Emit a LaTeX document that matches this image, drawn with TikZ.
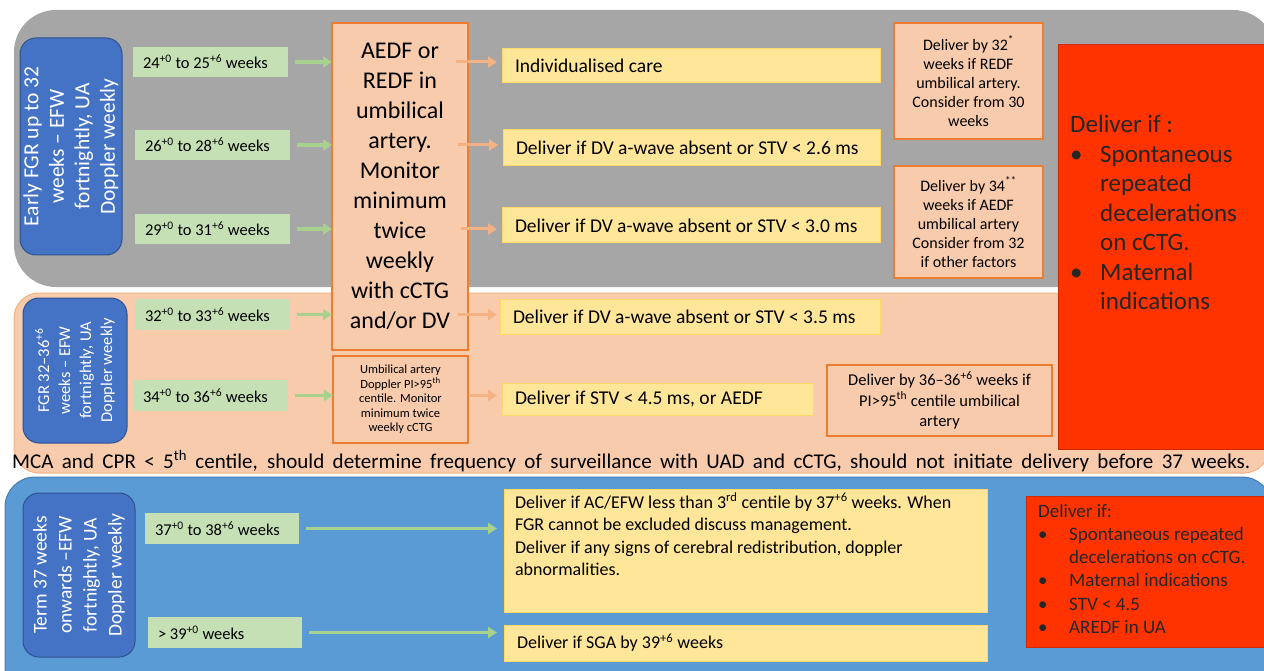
\documentclass[tikz,border=0pt]{standalone}
\usepackage{fontspec}
\setmainfont{Carlito}
\usetikzlibrary{arrows.meta}

\definecolor{panelgray}{HTML}{A6A6A6}
\definecolor{panelpeach}{HTML}{F8CBAD}
\definecolor{panelblue}{HTML}{5B9BD5}
\definecolor{stageblue}{HTML}{4472C4}
\definecolor{stageline}{HTML}{2F528F}
\definecolor{wkgreen}{HTML}{C5E0B4}
\definecolor{arrgreen}{HTML}{A9D18E}
\definecolor{actyellow}{HTML}{FFE699}
\definecolor{actline}{HTML}{FFD966}
\definecolor{notepeach}{HTML}{F8CBAD}
\definecolor{noteline}{HTML}{ED7D31}
\definecolor{arrorange}{HTML}{F4B183}
\definecolor{alertred}{HTML}{FF3300}

\newcommand{\sps}[1]{\textsuperscript{#1}}
\newcommand{\itm}[2]{\makebox[#1][l]{\hspace{#2}\textbullet}}

\begin{document}
\begin{tikzpicture}[x=1pt,y=-1pt,
  box/.style={anchor=north west,inner ysep=0pt,outer sep=0pt},
  wkbox/.style={box,fill=wkgreen,inner xsep=10pt,align=flush left,font=\fontsize{16.5}{19}\selectfont},
  actbox/.style={box,fill=actyellow,draw=actline,line width=1pt,inner xsep=13pt,align=flush left,font=\fontsize{19.5}{23}\selectfont},
  notebox/.style={box,fill=notepeach,draw=noteline,line width=1.5pt,inner xsep=4pt,align=flush center,font=\fontsize{16}{19}\selectfont},
  stagebox/.style={fill=stageblue,draw=stageline,line width=1pt,rounded corners=16pt,rotate=90,align=flush center,text=white,inner sep=0pt},
  alertbox/.style={box,fill=alertred,draw=alertred!80!black,line width=1pt},
  alerttxt/.style={anchor=north west,inner sep=0pt,align=flush left,text=black!85},
  garrow/.style={draw=arrgreen,line width=3.5pt,-{Triangle[length=9pt,width=11pt]},shorten <=7pt},
  oarrow/.style={draw=arrorange,line width=3pt,-{Triangle[length=9pt,width=11pt]}},
]
\useasboundingbox (0,0) rectangle (1264,671);
\clip (0,0) rectangle (1264,671);

% panels
\fill[panelgray,rounded corners=42pt] (14,10) rectangle (1275,287);
\draw[fill=panelpeach,draw=arrorange,line width=1pt,rounded corners=25pt] (14,293) rectangle (1269,473);
\draw[fill=panelblue,draw=panelblue!80!black,line width=1pt,rounded corners=30pt] (5,477) rectangle (1272,700);

% stages
\node[stagebox,minimum width=217,minimum height=102,font=\fontsize{21.5}{25.5}\selectfont] (early) at (71,146.5)
  {Early FGR up to 32\\weeks – EFW\\fortnightly, UA\\Doppler weekly};
\node[stagebox,minimum width=145,minimum height=104,font=\fontsize{16.5}{21}\selectfont] (mid) at (75,370.5)
  {FGR 32–36\sps{+6}\\weeks – EFW\\fortnightly, UA\\Doppler weekly};
\node[stagebox,minimum width=164,minimum height=112,font=\fontsize{19.5}{25}\selectfont] (term) at (79,575)
  {Term 37 weeks\\onwards –EFW\\fortnightly, UA\\Doppler weekly};

% gestation
\node[wkbox,minimum height=30,text width=135] (w24) at (133,47) {24\sps{+0} to 25\sps{+6} weeks};
\node[wkbox,minimum height=30,text width=135] (w26) at (135,130) {26\sps{+0} to 28\sps{+6} weeks};
\node[wkbox,minimum height=30,text width=135] (w29) at (135,214) {29\sps{+0} to 31\sps{+6} weeks};
\node[wkbox,minimum height=31,text width=135] (w32) at (135,299) {32\sps{+0} to 33\sps{+6} weeks};
\node[wkbox,minimum height=31,text width=135] (w34) at (133,380) {34\sps{+0} to 36\sps{+6} weeks};
\node[wkbox,minimum height=31,text width=134] (w37) at (145,513) {37\sps{+0} to 38\sps{+6} weeks};
\node[wkbox,minimum height=31,text width=134] (w39) at (148,617) {> 39\sps{+0} weeks};

% monitoring
\node[notebox,minimum height=327,text width=128,font=\fontsize{24}{30}\selectfont] (uadf) at (332,23)
  {AEDF or\\REDF in\\umbilical\\artery.\\Monitor\\minimum\\twice\\weekly\\with cCTG\\and/or DV};
\node[notebox,minimum height=87,text width=127,font=\fontsize{12.5}{14.5}\selectfont] (uapi) at (333,356)
  {Umbilical artery\\Doppler PI>95\sps{th}\\centile. Monitor\\minimum twice\\weekly cCTG};

% actions
\node[actbox,minimum height=34,text width=352] (indiv) at (502,49) {Individualised care};
\node[actbox,minimum height=36,text width=351] (dv26) at (503,130) {Deliver if DV a-wave absent or STV < 2.6 ms};
\node[actbox,minimum height=35,text width=352] (dv29) at (502,208) {Deliver if DV a-wave absent or STV < 3.0 ms};
\node[actbox,minimum height=35,text width=354] (dv32) at (500,299) {Deliver if DV a-wave absent or STV < 3.5 ms};
\node[actbox,minimum height=32,text width=285] (stv34) at (502,383) {Deliver if STV < 4.5 ms, or AEDF};
\node[actbox,inner xsep=11pt,inner ysep=4pt,font=\fontsize{18}{22.5}\selectfont] (ac37) at (504,489)
  {\parbox[c][115pt][t]{461pt}{\raggedright Deliver if AC/EFW less than 3\sps{rd} centile by 37\sps{+6} weeks. When\\
  FGR cannot be excluded discuss management.\\Deliver if any signs of cerebral redistribution, doppler\\abnormalities.}};
\node[actbox,minimum height=36,text width=457,font=\fontsize{18}{22.5}\selectfont] (sga39) at (504,625) {Deliver if SGA by 39\sps{+6} weeks};

% timing notes
\node[notebox,minimum height=116,text width=141] (by32) at (894,23)
  {Deliver by 32\sps{*}\\weeks if REDF\\umbilical artery.\\Consider from 30\\weeks};
\node[notebox,minimum height=112,text width=141] (by34) at (894,166)
  {Deliver by 34\sps{**}\\weeks if AEDF\\umbilical artery\\Consider from 32\\if other factors};
\node[notebox,minimum height=71,text width=217,font=\fontsize{16.5}{20.5}\selectfont] (by36) at (827,365)
  {Deliver by 36–36\sps{+6} weeks if\\PI>95\sps{th} centile umbilical\\artery};

% deliver if
\node[alertbox,minimum width=215,minimum height=404] (dlvA) at (1058,45) {};
\node[alerttxt,font=\fontsize{25}{29.5}\selectfont] (dlvAtxt) at ([xshift=12pt,yshift=-70pt]dlvA.north west)
  {Deliver if :\\\itm{30pt}{0pt}Spontaneous\\\hspace*{30pt}repeated\\\hspace*{30pt}decelerations\\\hspace*{30pt}on cCTG.\\
  \itm{30pt}{0pt}Maternal\\\hspace*{30pt}indications};
\node[alertbox,minimum width=245,minimum height=151] (dlvB) at (1026,496) {};
\node[alerttxt,font=\fontsize{19}{23.2}\selectfont] (dlvBtxt) at ([xshift=12pt,yshift=-8pt]dlvB.north west)
  {Deliver if:\\\itm{31pt}{0pt}Spontaneous repeated\\\hspace*{31pt}decelerations on cCTG.\\\itm{31pt}{0pt}Maternal indications\\
  \itm{31pt}{0pt}STV < 4.5\\\itm{31pt}{0pt}AREDF in UA};

\node[anchor=base west,inner sep=0pt,font=\fontsize{21}{25}\selectfont] (mca) at (12,468)
  {\makebox[1238pt][s]{MCA and CPR < 5\sps{th} centile, should determine frequency of surveillance with UAD and cCTG, should not initiate delivery before 37 weeks.}};

% arrows
\draw[garrow] (w24) -- (w24 -| uadf.west);
\draw[garrow] (w26) -- (w26 -| uadf.west);
\draw[garrow] (w29) -- (w29 -| uadf.west);
\draw[garrow] (w32) -- (w32 -| uadf.west);
\draw[garrow] (w34) -- (w34 -| uapi.west);
\draw[garrow,shorten >=7pt] (w37) -- (w37 -| ac37.west);
\draw[garrow,shorten >=7pt] (w39) -- (w39 -| sga39.west);
\draw[oarrow,shorten <=-12pt,shorten >=5pt] (w24 -| uadf.east) -- (w24 -| indiv.west);
\draw[oarrow,shorten <=-10pt,shorten >=5pt] (w26 -| uadf.east) -- (w26 -| dv26.west);
\draw[oarrow,shorten <=-7pt,shorten >=5pt] (w29 -| uadf.east) -- (w29 -| dv29.west);
\draw[oarrow,shorten <=-10pt,shorten >=3pt] (w32 -| uadf.east) -- (w32 -| dv32.west);
\draw[oarrow,shorten <=2pt,shorten >=5pt] (w34 -| uapi.east) -- (w34 -| stv34.west);
\end{tikzpicture}
\end{document}
